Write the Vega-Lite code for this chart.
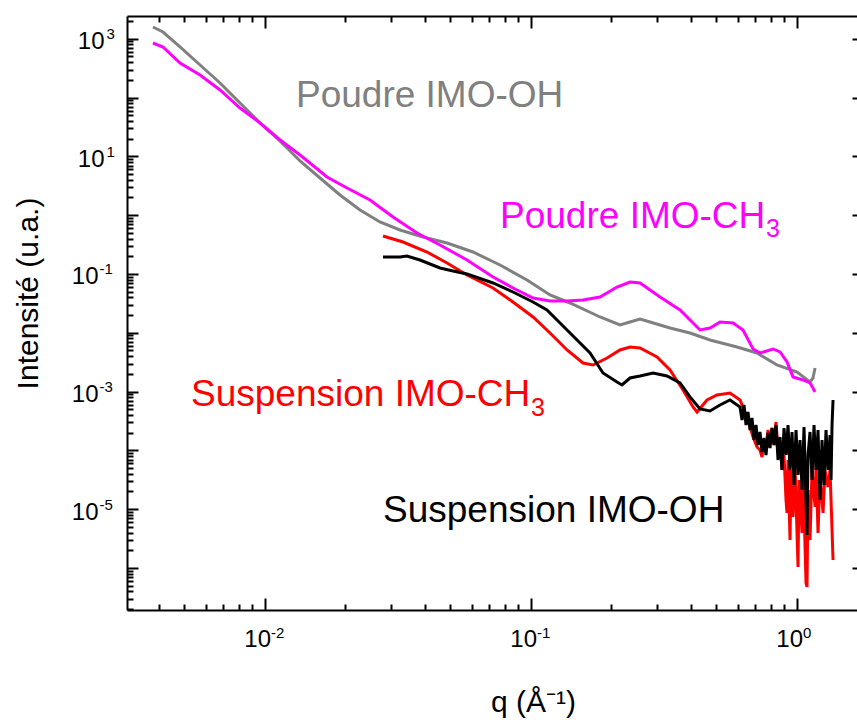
{
  "$schema": "https://vega.github.io/schema/vega-lite/v6.json",
  "width": 730,
  "height": 594,
  "autosize": {"type": "none"},
  "padding": {"left": 127, "top": 16, "right": 0, "bottom": 110},
  "background": "white",
  "config": {"view": {"stroke": null}, "font": "Liberation Sans"},
  "datasets": {
    "curves": [
      {"series": "Poudre IMO-OH", "q": 0.003808, "I": 1588},
      {"series": "Poudre IMO-OH", "q": 0.004153, "I": 1305},
      {"series": "Poudre IMO-OH", "q": 0.004813, "I": 725.4},
      {"series": "Poudre IMO-OH", "q": 0.005723, "I": 358.4},
      {"series": "Poudre IMO-OH", "q": 0.006804, "I": 177.2},
      {"series": "Poudre IMO-OH", "q": 0.008089, "I": 80.95},
      {"series": "Poudre IMO-OH", "q": 0.009618, "I": 36.98},
      {"series": "Poudre IMO-OH", "q": 0.01144, "I": 18.28},
      {"series": "Poudre IMO-OH", "q": 0.0136, "I": 8.352},
      {"series": "Poudre IMO-OH", "q": 0.01617, "I": 4.292},
      {"series": "Poudre IMO-OH", "q": 0.01922, "I": 2.206},
      {"series": "Poudre IMO-OH", "q": 0.02286, "I": 1.226},
      {"series": "Poudre IMO-OH", "q": 0.02717, "I": 0.7664},
      {"series": "Poudre IMO-OH", "q": 0.03231, "I": 0.5602},
      {"series": "Poudre IMO-OH", "q": 0.03943, "I": 0.4259},
      {"series": "Poudre IMO-OH", "q": 0.04854, "I": 0.3367},
      {"series": "Poudre IMO-OH", "q": 0.06078, "I": 0.2366},
      {"series": "Poudre IMO-OH", "q": 0.07681, "I": 0.1423},
      {"series": "Poudre IMO-OH", "q": 0.097, "I": 0.07906},
      {"series": "Poudre IMO-OH", "q": 0.1184, "I": 0.04394},
      {"series": "Poudre IMO-OH", "q": 0.1408, "I": 0.03212},
      {"series": "Poudre IMO-OH", "q": 0.1825, "I": 0.01857},
      {"series": "Poudre IMO-OH", "q": 0.217, "I": 0.01357},
      {"series": "Poudre IMO-OH", "q": 0.2366, "I": 0.01527},
      {"series": "Poudre IMO-OH", "q": 0.258, "I": 0.01717},
      {"series": "Poudre IMO-OH", "q": 0.2813, "I": 0.01527},
      {"series": "Poudre IMO-OH", "q": 0.3345, "I": 0.01207},
      {"series": "Poudre IMO-OH", "q": 0.3978, "I": 0.009922},
      {"series": "Poudre IMO-OH", "q": 0.4729, "I": 0.007542},
      {"series": "Poudre IMO-OH", "q": 0.5974, "I": 0.005735},
      {"series": "Poudre IMO-OH", "q": 0.7104, "I": 0.004534},
      {"series": "Poudre IMO-OH", "q": 0.8448, "I": 0.002834},
      {"series": "Poudre IMO-OH", "q": 1.004, "I": 0.002154},
      {"series": "Poudre IMO-OH", "q": 1.124, "I": 0.001457},
      {"series": "Poudre IMO-OH", "q": 1.153, "I": 0.001703},
      {"series": "Poudre IMO-OH", "q": 1.174, "I": 0.00252},

      {"series": "Poudre IMO-CH3", "q": 0.003808, "I": 848.5},
      {"series": "Poudre IMO-CH3", "q": 0.004153, "I": 725.4},
      {"series": "Poudre IMO-CH3", "q": 0.004813, "I": 387.6},
      {"series": "Poudre IMO-CH3", "q": 0.005723, "I": 242.3},
      {"series": "Poudre IMO-CH3", "q": 0.006804, "I": 134.7},
      {"series": "Poudre IMO-CH3", "q": 0.008089, "I": 66.55},
      {"series": "Poudre IMO-CH3", "q": 0.009618, "I": 36.98},
      {"series": "Poudre IMO-CH3", "q": 0.01144, "I": 19.01},
      {"series": "Poudre IMO-CH3", "q": 0.0136, "I": 10.56},
      {"series": "Poudre IMO-CH3", "q": 0.01718, "I": 4.464},
      {"series": "Poudre IMO-CH3", "q": 0.02043, "I": 2.901},
      {"series": "Poudre IMO-CH3", "q": 0.02492, "I": 1.813},
      {"series": "Poudre IMO-CH3", "q": 0.03041, "I": 0.932},
      {"series": "Poudre IMO-CH3", "q": 0.03744, "I": 0.4981},
      {"series": "Poudre IMO-CH3", "q": 0.04568, "I": 0.3113},
      {"series": "Poudre IMO-CH3", "q": 0.05771, "I": 0.173},
      {"series": "Poudre IMO-CH3", "q": 0.07228, "I": 0.08892},
      {"series": "Poudre IMO-CH3", "q": 0.08595, "I": 0.05779},
      {"series": "Poudre IMO-CH3", "q": 0.1022, "I": 0.03906},
      {"series": "Poudre IMO-CH3", "q": 0.1184, "I": 0.03473},
      {"series": "Poudre IMO-CH3", "q": 0.1372, "I": 0.03473},
      {"series": "Poudre IMO-CH3", "q": 0.1575, "I": 0.03612},
      {"series": "Poudre IMO-CH3", "q": 0.1825, "I": 0.04062},
      {"series": "Poudre IMO-CH3", "q": 0.2114, "I": 0.0601},
      {"series": "Poudre IMO-CH3", "q": 0.2366, "I": 0.0731},
      {"series": "Poudre IMO-CH3", "q": 0.258, "I": 0.07029},
      {"series": "Poudre IMO-CH3", "q": 0.3068, "I": 0.04062},
      {"series": "Poudre IMO-CH3", "q": 0.3648, "I": 0.02442},
      {"series": "Poudre IMO-CH3", "q": 0.4337, "I": 0.01116},
      {"series": "Poudre IMO-CH3", "q": 0.4729, "I": 0.01207},
      {"series": "Poudre IMO-CH3", "q": 0.5157, "I": 0.01527},
      {"series": "Poudre IMO-CH3", "q": 0.5773, "I": 0.01468},
      {"series": "Poudre IMO-CH3", "q": 0.6293, "I": 0.01116},
      {"series": "Poudre IMO-CH3", "q": 0.6864, "I": 0.005303},
      {"series": "Poudre IMO-CH3", "q": 0.7291, "I": 0.004534},
      {"series": "Poudre IMO-CH3", "q": 0.8161, "I": 0.005303},
      {"series": "Poudre IMO-CH3", "q": 0.867, "I": 0.004715},
      {"series": "Poudre IMO-CH3", "q": 0.9211, "I": 0.003187},
      {"series": "Poudre IMO-CH3", "q": 0.9701, "I": 0.001771},
      {"series": "Poudre IMO-CH3", "q": 1.058, "I": 0.001575},
      {"series": "Poudre IMO-CH3", "q": 1.124, "I": 0.001401},
      {"series": "Poudre IMO-CH3", "q": 1.153, "I": 0.001151},
      {"series": "Poudre IMO-CH3", "q": 1.174, "I": 0.0009845},

      {"series": "Suspension IMO-CH3", "q": 0.02789, "I": 0.4429},
      {"series": "Suspension IMO-CH3", "q": 0.03317, "I": 0.3501},
      {"series": "Suspension IMO-CH3", "q": 0.04083, "I": 0.2366},
      {"series": "Suspension IMO-CH3", "q": 0.04854, "I": 0.1539},
      {"series": "Suspension IMO-CH3", "q": 0.05771, "I": 0.09616},
      {"series": "Suspension IMO-CH3", "q": 0.07228, "I": 0.05779},
      {"series": "Suspension IMO-CH3", "q": 0.08595, "I": 0.0334},
      {"series": "Suspension IMO-CH3", "q": 0.1022, "I": 0.01857},
      {"series": "Suspension IMO-CH3", "q": 0.1184, "I": 0.009922},
      {"series": "Suspension IMO-CH3", "q": 0.1372, "I": 0.005098},
      {"series": "Suspension IMO-CH3", "q": 0.1575, "I": 0.003065},
      {"series": "Suspension IMO-CH3", "q": 0.1718, "I": 0.002834},
      {"series": "Suspension IMO-CH3", "q": 0.1939, "I": 0.003727},
      {"series": "Suspension IMO-CH3", "q": 0.217, "I": 0.005098},
      {"series": "Suspension IMO-CH3", "q": 0.2366, "I": 0.005735},
      {"series": "Suspension IMO-CH3", "q": 0.258, "I": 0.005514},
      {"series": "Suspension IMO-CH3", "q": 0.2989, "I": 0.003877},
      {"series": "Suspension IMO-CH3", "q": 0.3345, "I": 0.00233},
      {"series": "Suspension IMO-CH3", "q": 0.3744, "I": 0.001065},
      {"series": "Suspension IMO-CH3", "q": 0.4083, "I": 0.000547},
      {"series": "Suspension IMO-CH3", "q": 0.4227, "I": 0.0004497},
      {"series": "Suspension IMO-CH3", "q": 0.4608, "I": 0.0007195},
      {"series": "Suspension IMO-CH3", "q": 0.5025, "I": 0.0008754},
      {"series": "Suspension IMO-CH3", "q": 0.5623, "I": 0.0009467},
      {"series": "Suspension IMO-CH3", "q": 0.6132, "I": 0.0007195},
      {"series": "Suspension IMO-CH3", "q": 0.6516, "I": 0.0003698},
      {"series": "Suspension IMO-CH3", "q": 0.6863, "I": 0.000169},
      {"series": "Suspension IMO-CH3", "q": 0.7104, "I": 0.0001142},
      {"series": "Suspension IMO-CH3", "q": 0.729, "I": 0.0001016},
      {"series": "Suspension IMO-CH3", "q": 0.7418, "I": 0.00007723},
      {"series": "Suspension IMO-CH3", "q": 0.7547, "I": 0.0001503},
      {"series": "Suspension IMO-CH3", "q": 0.7679, "I": 0.0001142},
      {"series": "Suspension IMO-CH3", "q": 0.7813, "I": 0.0002223},
      {"series": "Suspension IMO-CH3", "q": 0.7949, "I": 0.0001503},
      {"series": "Suspension IMO-CH3", "q": 0.8088, "I": 0.0002404},
      {"series": "Suspension IMO-CH3", "q": 0.8229, "I": 0.0001235},
      {"series": "Suspension IMO-CH3", "q": 0.8373, "I": 0.0003041},
      {"series": "Suspension IMO-CH3", "q": 0.8519, "I": 0.0001016},
      {"series": "Suspension IMO-CH3", "q": 0.8668, "I": 0.0001336},
      {"series": "Suspension IMO-CH3", "q": 0.8819, "I": 0.00004642},
      {"series": "Suspension IMO-CH3", "q": 0.8974, "I": 0.00008351},
      {"series": "Suspension IMO-CH3", "q": 0.9131, "I": 0.00001434},
      {"series": "Suspension IMO-CH3", "q": 0.9211, "I": 0.000008617},
      {"series": "Suspension IMO-CH3", "q": 0.9291, "I": 0.00006865},
      {"series": "Suspension IMO-CH3", "q": 0.9453, "I": 0.000002994},
      {"series": "Suspension IMO-CH3", "q": 0.9535, "I": 0.00004642},
      {"series": "Suspension IMO-CH3", "q": 0.9701, "I": 0.000007368},
      {"series": "Suspension IMO-CH3", "q": 0.9871, "I": 0.00005645},
      {"series": "Suspension IMO-CH3", "q": 1.0131, "I": 0.00000104},
      {"series": "Suspension IMO-CH3", "q": 1.0219, "I": 0.00003137},
      {"series": "Suspension IMO-CH3", "q": 1.0488, "I": 0.000003937},
      {"series": "Suspension IMO-CH3", "q": 1.058, "I": 0.00004642},
      {"series": "Suspension IMO-CH3", "q": 1.0857, "I": 5.556e-7},
      {"series": "Suspension IMO-CH3", "q": 1.0952, "I": 4.751e-7},
      {"series": "Suspension IMO-CH3", "q": 1.1047, "I": 0.00002121},
      {"series": "Suspension IMO-CH3", "q": 1.124, "I": 0.000002994},
      {"series": "Suspension IMO-CH3", "q": 1.1437, "I": 0.00004642},
      {"series": "Suspension IMO-CH3", "q": 1.174, "I": 0.0000109},
      {"series": "Suspension IMO-CH3", "q": 1.184, "I": 0.00005645},
      {"series": "Suspension IMO-CH3", "q": 1.2046, "I": 0.000003937},
      {"series": "Suspension IMO-CH3", "q": 1.2257, "I": 0.00003816},
      {"series": "Suspension IMO-CH3", "q": 1.258, "I": 0.000008617},
      {"series": "Suspension IMO-CH3", "q": 1.28, "I": 0.00004642},
      {"series": "Suspension IMO-CH3", "q": 1.3136, "I": 0.00002386},
      {"series": "Suspension IMO-CH3", "q": 1.3366, "I": 0.00004642},
      {"series": "Suspension IMO-CH3", "q": 1.3718, "I": 0.000001368},

      {"series": "Suspension IMO-OH", "q": 0.02789, "I": 0.1946},
      {"series": "Suspension IMO-OH", "q": 0.03231, "I": 0.1946},
      {"series": "Suspension IMO-OH", "q": 0.03433, "I": 0.2024},
      {"series": "Suspension IMO-OH", "q": 0.03842, "I": 0.173},
      {"series": "Suspension IMO-OH", "q": 0.04568, "I": 0.1265},
      {"series": "Suspension IMO-OH", "q": 0.05114, "I": 0.1125},
      {"series": "Suspension IMO-OH", "q": 0.05771, "I": 0.1},
      {"series": "Suspension IMO-OH", "q": 0.07228, "I": 0.07029},
      {"series": "Suspension IMO-OH", "q": 0.08595, "I": 0.04941},
      {"series": "Suspension IMO-OH", "q": 0.1022, "I": 0.0334},
      {"series": "Suspension IMO-OH", "q": 0.1153, "I": 0.02442},
      {"series": "Suspension IMO-OH", "q": 0.1258, "I": 0.01651},
      {"series": "Suspension IMO-OH", "q": 0.1408, "I": 0.009922},
      {"series": "Suspension IMO-OH", "q": 0.1674, "I": 0.004534},
      {"series": "Suspension IMO-OH", "q": 0.1873, "I": 0.002071},
      {"series": "Suspension IMO-OH", "q": 0.2114, "I": 0.001457},
      {"series": "Suspension IMO-OH", "q": 0.2208, "I": 0.001295},
      {"series": "Suspension IMO-OH", "q": 0.2366, "I": 0.001703},
      {"series": "Suspension IMO-OH", "q": 0.258, "I": 0.001842},
      {"series": "Suspension IMO-OH", "q": 0.2887, "I": 0.002071},
      {"series": "Suspension IMO-OH", "q": 0.326, "I": 0.001842},
      {"series": "Suspension IMO-OH", "q": 0.3648, "I": 0.001401},
      {"series": "Suspension IMO-OH", "q": 0.3978, "I": 0.0008094},
      {"series": "Suspension IMO-OH", "q": 0.4337, "I": 0.0005058},
      {"series": "Suspension IMO-OH", "q": 0.4729, "I": 0.0004677},
      {"series": "Suspension IMO-OH", "q": 0.5157, "I": 0.0005916},
      {"series": "Suspension IMO-OH", "q": 0.5623, "I": 0.0007195},
      {"series": "Suspension IMO-OH", "q": 0.6132, "I": 0.000547},
      {"series": "Suspension IMO-OH", "q": 0.6239, "I": 0.0003289},
      {"series": "Suspension IMO-OH", "q": 0.6348, "I": 0.0005916},
      {"series": "Suspension IMO-OH", "q": 0.6459, "I": 0.0002704},
      {"series": "Suspension IMO-OH", "q": 0.6571, "I": 0.0004497},
      {"series": "Suspension IMO-OH", "q": 0.6686, "I": 0.0002223},
      {"series": "Suspension IMO-OH", "q": 0.6803, "I": 0.0003556},
      {"series": "Suspension IMO-OH", "q": 0.6922, "I": 0.0001503},
      {"series": "Suspension IMO-OH", "q": 0.7042, "I": 0.0002704},
      {"series": "Suspension IMO-OH", "q": 0.7165, "I": 0.0001235},
      {"series": "Suspension IMO-OH", "q": 0.729, "I": 0.0002055},
      {"series": "Suspension IMO-OH", "q": 0.7418, "I": 0.00009393},
      {"series": "Suspension IMO-OH", "q": 0.7547, "I": 0.0001625},
      {"series": "Suspension IMO-OH", "q": 0.7679, "I": 0.00008351},
      {"series": "Suspension IMO-OH", "q": 0.7813, "I": 0.0001977},
      {"series": "Suspension IMO-OH", "q": 0.7949, "I": 0.0001098},
      {"series": "Suspension IMO-OH", "q": 0.8088, "I": 0.0002404},
      {"series": "Suspension IMO-OH", "q": 0.8229, "I": 0.0001235},
      {"series": "Suspension IMO-OH", "q": 0.8373, "I": 0.0002704},
      {"series": "Suspension IMO-OH", "q": 0.8519, "I": 0.00006865},
      {"series": "Suspension IMO-OH", "q": 0.8668, "I": 0.000169},
      {"series": "Suspension IMO-OH", "q": 0.8819, "I": 0.00004642},
      {"series": "Suspension IMO-OH", "q": 0.8974, "I": 0.0002404},
      {"series": "Suspension IMO-OH", "q": 0.9131, "I": 0.00008351},
      {"series": "Suspension IMO-OH", "q": 0.9291, "I": 0.0002704},
      {"series": "Suspension IMO-OH", "q": 0.9453, "I": 0.00004642},
      {"series": "Suspension IMO-OH", "q": 0.9618, "I": 0.0002055},
      {"series": "Suspension IMO-OH", "q": 0.9786, "I": 0.0000258},
      {"series": "Suspension IMO-OH", "q": 0.9957, "I": 0.0002223},
      {"series": "Suspension IMO-OH", "q": 1.0131, "I": 0.00003816},
      {"series": "Suspension IMO-OH", "q": 1.0308, "I": 0.0001503},
      {"series": "Suspension IMO-OH", "q": 1.0488, "I": 0.00002121},
      {"series": "Suspension IMO-OH", "q": 1.0671, "I": 0.00025},
      {"series": "Suspension IMO-OH", "q": 1.0857, "I": 0.00001434},
      {"series": "Suspension IMO-OH", "q": 1.0952, "I": 0.00000364},
      {"series": "Suspension IMO-OH", "q": 1.1047, "I": 0.00008351},
      {"series": "Suspension IMO-OH", "q": 1.124, "I": 0.0002055},
      {"series": "Suspension IMO-OH", "q": 1.1437, "I": 0.00003137},
      {"series": "Suspension IMO-OH", "q": 1.1636, "I": 0.0002704},
      {"series": "Suspension IMO-OH", "q": 1.184, "I": 0.00004642},
      {"series": "Suspension IMO-OH", "q": 1.2046, "I": 0.0002223},
      {"series": "Suspension IMO-OH", "q": 1.2257, "I": 0.00001434},
      {"series": "Suspension IMO-OH", "q": 1.2471, "I": 0.0001503},
      {"series": "Suspension IMO-OH", "q": 1.2689, "I": 0.0000258},
      {"series": "Suspension IMO-OH", "q": 1.291, "I": 0.0002223},
      {"series": "Suspension IMO-OH", "q": 1.3136, "I": 0.00004642},
      {"series": "Suspension IMO-OH", "q": 1.3366, "I": 0.0001828},
      {"series": "Suspension IMO-OH", "q": 1.3482, "I": 0.00003137},
      {"series": "Suspension IMO-OH", "q": 1.3599, "I": 0.0002704},
      {"series": "Suspension IMO-OH", "q": 1.3718, "I": 0.0007195}
    ],
    "labels": [
      {"series": "Poudre IMO-OH", "text": "Poudre IMO-OH", "q": 0.01313, "I": 69.2},
      {"series": "Poudre IMO-CH3", "text": "Poudre IMO-CH", "q": 0.07681, "I": 0.6056},
      {"series": "Suspension IMO-CH3", "text": "Suspension IMO-CH", "q": 0.005293, "I": 0.000569},
      {"series": "Suspension IMO-OH", "text": "Suspension IMO-OH", "q": 0.02789, "I": 0.000006057}
    ],
    "subs": [
      {"series": "Poudre IMO-CH3", "text": "3", "q": 0.7679, "I": 0.4259},
      {"series": "Suspension IMO-CH3", "text": "3", "q": 0.1004, "I": 0.0003846}
    ]
  },
  "layer": [
    {
      "data": {"name": "curves"},
      "transform": [{"filter": "datum.series == 'Poudre IMO-OH'"}],
      "mark": {"type": "line", "color": "#808080", "strokeWidth": 3, "clip": true},
      "encoding": {
        "x": {
          "field": "q", "type": "quantitative",
          "scale": {"type": "log", "domain": [0.003041, 1.688], "nice": false},
          "axis": {
            "orient": "bottom",
            "values": [0.01, 0.1, 1],
            "tickCount": 500,
            "labelExpr": "'10'",
            "tickSize": -12,
            "tickWidth": 2, "tickColor": "black",
            "domainColor": "black", "domainWidth": 2,
            "grid": false,
            "labelFont": "Liberation Sans", "labelFontSize": 24, "labelColor": "black",
            "labelAlign": "right", "labelBaseline": "alphabetic", "labelOffset": 6,
            "labelPadding": 48,
            "labelOverlap": false, "labelFlush": false, "labelBound": false,
            "title": "q (Å⁻¹)",
            "titleFont": "Liberation Sans", "titleFontSize": 30, "titleFontWeight": "normal", "titleColor": "black",
            "titleX": 406, "titleY": 101, "titleBaseline": "alphabetic", "titleAlign": "center"
          }
        },
        "y": {
          "field": "I", "type": "quantitative",
          "scale": {"type": "log", "domain": [1.93e-7, 2442], "nice": false},
          "axis": {
            "orient": "left",
            "values": [1e-6, 1e-5, 1e-4, 0.001, 0.01, 0.1, 1, 10, 100, 1000],
            "tickCount": 500,
            "labelExpr": "(datum.value == 1000 || datum.value == 10 || datum.value == 0.1 || datum.value == 0.001 || datum.value == 0.00001) ? '10' : ''",
            "tickSize": -11,
            "tickWidth": 2, "tickColor": "black",
            "domainColor": "black", "domainWidth": 2,
            "grid": false,
            "labelFont": "Liberation Sans", "labelFontSize": 24, "labelColor": "black",
            "labelAlign": "right", "labelBaseline": "alphabetic", "labelOffset": 10,
            "labelPadding": {"condition": {"test": "datum.value >= 1", "value": 34}, "value": 40},
            "labelOverlap": false, "labelFlush": false, "labelBound": false,
            "title": "Intensité (u.a.)",
            "titleFont": "Liberation Sans", "titleFontSize": 30, "titleFontWeight": "normal", "titleColor": "black",
            "titleAngle": -90, "titleX": -99, "titleY": 277, "titleBaseline": "middle", "titleAlign": "center"
          }
        }
      }
    },
    {
      "data": {"name": "curves"},
      "transform": [{"filter": "datum.series == 'Poudre IMO-CH3'"}],
      "mark": {"type": "line", "color": "#ff00ff", "strokeWidth": 3, "clip": true},
      "encoding": {
        "x": {
          "field": "q", "type": "quantitative",
          "scale": {"type": "log", "domain": [0.003041, 1.688], "nice": false},
          "axis": {
            "orient": "bottom",
            "values": [0.004, 0.005, 0.006, 0.007, 0.008, 0.009, 0.02, 0.03, 0.04, 0.05, 0.06, 0.07, 0.08, 0.09, 0.2, 0.3, 0.4, 0.5, 0.6, 0.7, 0.8, 0.9],
            "tickCount": 500,
            "labels": false, "domain": false, "grid": false, "title": null,
            "tickSize": -6, "tickWidth": 2, "tickColor": "black"
          }
        },
        "y": {
          "field": "I", "type": "quantitative",
          "scale": {"type": "log", "domain": [1.93e-7, 2442], "nice": false},
          "axis": {
            "orient": "left",
            "values": [2e-7, 3e-7, 4e-7, 5e-7, 6e-7, 7e-7, 8e-7, 9e-7,
                       2e-6, 3e-6, 4e-6, 5e-6, 6e-6, 7e-6, 8e-6, 9e-6,
                       2e-5, 3e-5, 4e-5, 5e-5, 6e-5, 7e-5, 8e-5, 9e-5,
                       2e-4, 3e-4, 4e-4, 5e-4, 6e-4, 7e-4, 8e-4, 9e-4,
                       0.002, 0.003, 0.004, 0.005, 0.006, 0.007, 0.008, 0.009,
                       0.02, 0.03, 0.04, 0.05, 0.06, 0.07, 0.08, 0.09,
                       0.2, 0.3, 0.4, 0.5, 0.6, 0.7, 0.8, 0.9,
                       2, 3, 4, 5, 6, 7, 8, 9,
                       20, 30, 40, 50, 60, 70, 80, 90,
                       200, 300, 400, 500, 600, 700, 800, 900,
                       2000],
            "tickCount": 500,
            "labels": false, "domain": false, "grid": false, "title": null,
            "tickSize": -6, "tickWidth": 2, "tickColor": "black"
          }
        }
      }
    },
    {
      "data": {"name": "curves"},
      "transform": [{"filter": "datum.series == 'Suspension IMO-CH3'"}],
      "mark": {"type": "line", "color": "#ff0000", "strokeWidth": 3, "clip": true},
      "encoding": {
        "x": {
          "field": "q", "type": "quantitative",
          "scale": {"type": "log", "domain": [0.003041, 1.688], "nice": false},
          "axis": {
            "orient": "bottom",
            "values": [0.01, 0.1, 1],
            "tickCount": 500,
            "ticks": false, "tickSize": 0, "domain": false, "grid": false, "title": null,
            "labelExpr": "datum.value == 0.01 ? '-2' : datum.value == 0.1 ? '-1' : '0'",
            "labelFont": "Liberation Sans", "labelFontSize": 15, "labelColor": "black",
            "labelAlign": "left", "labelBaseline": "alphabetic", "labelOffset": 6,
            "labelPadding": 27,
            "labelOverlap": false, "labelFlush": false, "labelBound": false
          }
        },
        "y": {
          "field": "I", "type": "quantitative",
          "scale": {"type": "log", "domain": [1.93e-7, 2442], "nice": false},
          "axis": {
            "orient": "left",
            "values": [0.00001, 0.001, 0.1, 10, 1000],
            "tickCount": 500,
            "ticks": false, "tickSize": 0, "domain": false, "grid": false, "title": null,
            "labelExpr": "datum.value == 1000 ? '3' : datum.value == 10 ? '1' : datum.value == 0.1 ? '-1' : datum.value == 0.001 ? '-3' : '-5'",
            "labelFont": "Liberation Sans", "labelFontSize": 15, "labelColor": "black",
            "labelAlign": "left", "labelBaseline": "alphabetic", "labelOffset": 0,
            "labelPadding": {"condition": {"test": "datum.value >= 1", "value": 21}, "value": 28},
            "labelOverlap": false, "labelFlush": false, "labelBound": false
          }
        }
      }
    },
    {
      "data": {"name": "curves"},
      "transform": [{"filter": "datum.series == 'Suspension IMO-OH'"}],
      "mark": {"type": "line", "color": "#000000", "strokeWidth": 3, "clip": true},
      "encoding": {
        "x": {"field": "q", "type": "quantitative", "scale": {"type": "log", "domain": [0.003041, 1.688], "nice": false}, "axis": null},
        "y": {"field": "I", "type": "quantitative", "scale": {"type": "log", "domain": [1.93e-7, 2442], "nice": false}, "axis": null}
      }
    },
    {
      "data": {"name": "labels"},
      "mark": {"type": "text", "font": "Liberation Sans", "fontSize": 37, "align": "left", "baseline": "alphabetic"},
      "encoding": {
        "x": {
          "field": "q", "type": "quantitative",
          "scale": {"type": "log", "domain": [0.003041, 1.688], "nice": false},
          "axis": {
            "orient": "top",
            "values": [0.01, 0.1, 1],
            "tickCount": 500,
            "labels": false,
            "tickSize": -12,
            "tickWidth": 2, "tickColor": "black",
            "domainColor": "black", "domainWidth": 2,
            "grid": false, "title": null
          }
        },
        "y": {
          "field": "I", "type": "quantitative",
          "scale": {"type": "log", "domain": [1.93e-7, 2442], "nice": false},
          "axis": {
            "orient": "right",
            "values": [1e-6, 1e-5, 1e-4, 0.001, 0.01, 0.1, 1, 10, 100, 1000],
            "tickCount": 500,
            "labels": false,
            "tickSize": -5,
            "tickWidth": 2, "tickColor": "black",
            "domain": false,
            "grid": false, "title": null
          }
        },
        "text": {"field": "text"},
        "color": {
          "field": "series", "type": "nominal",
          "scale": {"domain": ["Poudre IMO-OH", "Poudre IMO-CH3", "Suspension IMO-CH3", "Suspension IMO-OH"], "range": ["#808080", "#ff00ff", "#ff0000", "#000000"]},
          "legend": null
        }
      }
    },
    {
      "data": {"name": "subs"},
      "mark": {"type": "text", "font": "Liberation Sans", "fontSize": 25, "align": "left", "baseline": "alphabetic"},
      "encoding": {
        "x": {
          "field": "q", "type": "quantitative",
          "scale": {"type": "log", "domain": [0.003041, 1.688], "nice": false},
          "axis": {
            "orient": "top",
            "values": [0.004, 0.005, 0.006, 0.007, 0.008, 0.009, 0.02, 0.03, 0.04, 0.05, 0.06, 0.07, 0.08, 0.09, 0.2, 0.3, 0.4, 0.5, 0.6, 0.7, 0.8, 0.9],
            "tickCount": 500,
            "labels": false, "domain": false, "grid": false, "title": null,
            "tickSize": -6, "tickWidth": 2, "tickColor": "black"
          }
        },
        "y": {"field": "I", "type": "quantitative", "scale": {"type": "log", "domain": [1.93e-7, 2442], "nice": false}, "axis": null},
        "text": {"field": "text"},
        "color": {
          "field": "series", "type": "nominal",
          "scale": {"domain": ["Poudre IMO-OH", "Poudre IMO-CH3", "Suspension IMO-CH3", "Suspension IMO-OH"], "range": ["#808080", "#ff00ff", "#ff0000", "#000000"]},
          "legend": null
        }
      }
    }
  ],
  "resolve": {"axis": {"x": "independent", "y": "independent"}}
}
